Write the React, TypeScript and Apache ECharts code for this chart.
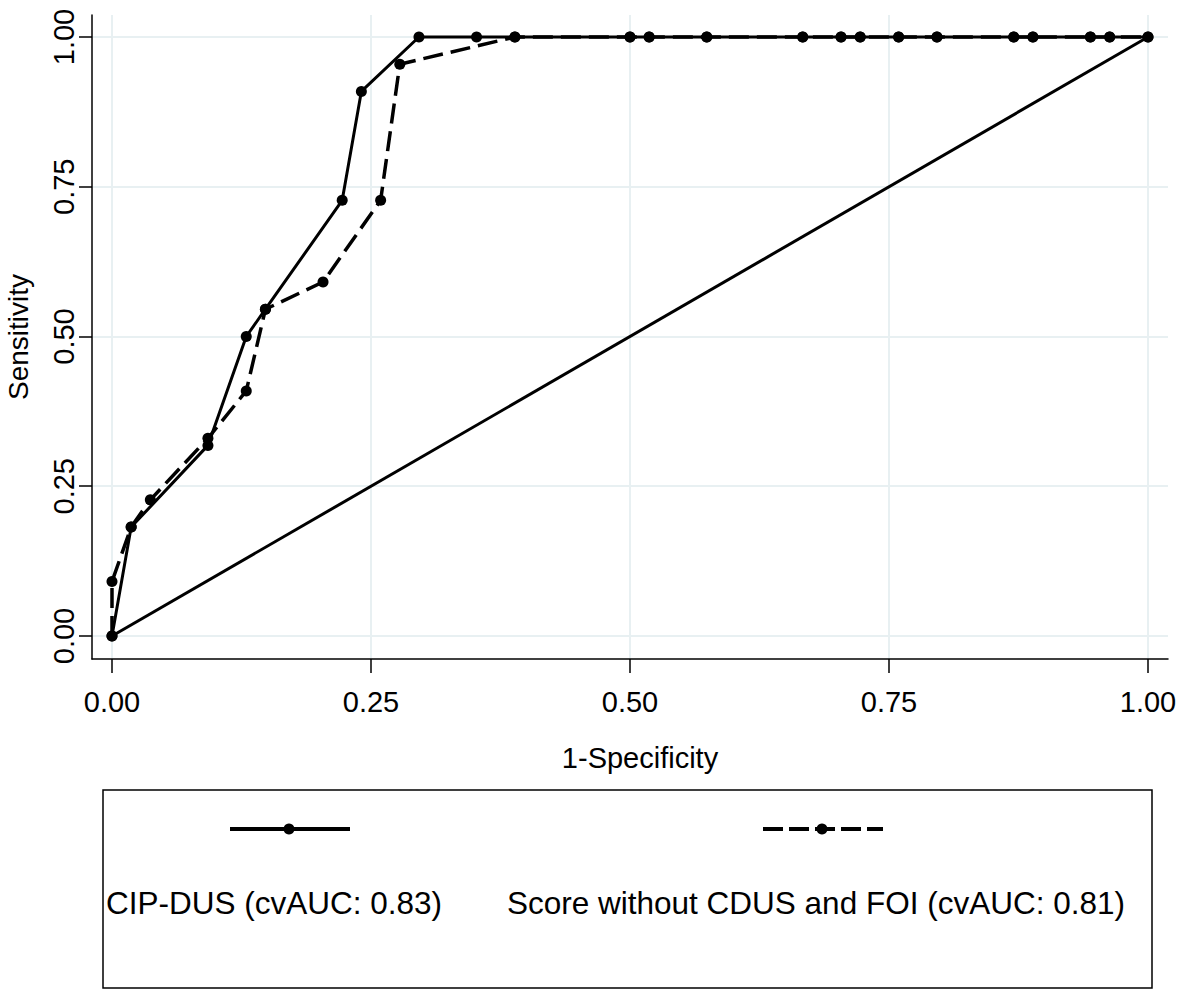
import React, { useEffect, useRef } from "react";
import * as echarts from "echarts";

const tickValues = [0, 0.25, 0.5, 0.75, 1];

const cipX = [0, 0.0185, 0.0926, 0.1296, 0.1481, 0.2222, 0.2407, 0.2963, 0.3519, 0.3889, 0.5, 0.5185, 0.5741, 0.6667, 0.7037, 0.7222, 0.7593, 0.7963, 0.8704, 0.8889, 0.9444, 0.963, 1];
const cipY = [0, 0.1818, 0.3182, 0.5, 0.5455, 0.7273, 0.9091, 1, 1, 1, 1, 1, 1, 1, 1, 1, 1, 1, 1, 1, 1, 1, 1];

const scoreX = [0, 0, 0.0185, 0.037, 0.0926, 0.1296, 0.1481, 0.2037, 0.2593, 0.2778, 0.3889, 0.5, 0.5185, 0.5741, 0.6667, 0.7037, 0.7222, 0.7593, 0.7963, 0.8704, 0.8889, 0.9444, 0.963, 1];
const scoreY = [0, 0.0909, 0.1818, 0.2273, 0.33, 0.4091, 0.5455, 0.5909, 0.7273, 0.9545, 1, 1, 1, 1, 1, 1, 1, 1, 1, 1, 1, 1, 1, 1];

const refX = [0, 1];
const refY = [0, 1];

const legendNames = ["CIP-DUS (cvAUC: 0.83)", "Score without CDUS and FOI (cvAUC: 0.81)"];
const xTitle = "1-Specificity";
const yTitle = "Sensitivity";

const FONT = "'Liberation Sans', Arial, Helvetica, sans-serif";

export default function App() {
  const ref = useRef<HTMLDivElement>(null);
  useEffect(() => {
    if (!ref.current) return;
    const chart = echarts.init(ref.current, undefined, { renderer: "svg" });
    const zip = (xs: number[], ys: number[]) => xs.map((x, i) => [x, ys[i]]);
    const gridColor = "#e8f0f2";
    chart.setOption({
      animation: false,
      backgroundColor: "#fff",
      grid: { left: 92, right: 13, top: 15, bottom: 333, containLabel: false, outerBoundsMode: "none" },
      xAxis: {
        type: "value",
        min: -0.0193,
        max: 1.0193,
        name: xTitle,
        nameLocation: "middle",
        nameGap: 84,
        nameTextStyle: { fontSize: 29, color: "#000", fontFamily: FONT, padding: [0, 0, 0, 20] },
        axisLine: { show: true, onZero: false, lineStyle: { color: "#000", width: 1.5 } },
        axisTick: { show: true, customValues: tickValues, length: 14, lineStyle: { color: "#000", width: 1.5 } },
        axisLabel: {
          customValues: tickValues,
          formatter: (v: number) => v.toFixed(2),
          fontSize: 29,
          color: "#000",
          fontFamily: FONT,
          margin: 28,
        },
        splitLine: { show: true, lineStyle: { color: gridColor, width: 2 } },
      },
      yAxis: {
        type: "value",
        min: -0.0384,
        max: 1.0367,
        name: yTitle,
        nameLocation: "middle",
        nameGap: 60,
        nameTextStyle: { fontSize: 28, color: "#000", fontFamily: FONT },
        axisLine: { show: true, onZero: false, lineStyle: { color: "#000", width: 1.5 } },
        axisTick: { show: true, customValues: tickValues, length: 13, lineStyle: { color: "#000", width: 1.5 } },
        axisLabel: {
          customValues: tickValues,
          formatter: (v: number) => v.toFixed(2),
          fontSize: 29,
          color: "#000",
          fontFamily: FONT,
          rotate: 90,
          margin: 14,
        },
        splitLine: { show: true, lineStyle: { color: gridColor, width: 2 } },
      },
      series: [
        {
          type: "line",
          data: zip(refX, refY),
          showSymbol: false,
          lineStyle: { color: "#000", width: 3 },
          z: 2,
        },
        {
          name: legendNames[0],
          type: "line",
          data: zip(cipX, cipY),
          symbol: "circle",
          symbolSize: 11,
          itemStyle: { color: "#000" },
          lineStyle: { color: "#000", width: 3 },
          z: 3,
        },
        {
          name: legendNames[1],
          type: "line",
          data: zip(scoreX, scoreY),
          symbol: "circle",
          symbolSize: 11,
          itemStyle: { color: "#000" },
          lineStyle: { color: "#000", width: 3.5, type: [20, 8] },
          z: 4,
        },
      ],
      graphic: [
        {
          type: "rect",
          shape: { x: 103, y: 790, width: 1049, height: 198 },
          style: { fill: "none", stroke: "#000", lineWidth: 1.5 },
        },
        {
          type: "line",
          shape: { x1: 230, y1: 829, x2: 350, y2: 829 },
          style: { stroke: "#000", lineWidth: 4 },
        },
        { type: "circle", shape: { cx: 289, cy: 829, r: 5.5 }, style: { fill: "#000" } },
        {
          type: "line",
          shape: { x1: 763, y1: 829, x2: 883, y2: 829 },
          style: { stroke: "#000", lineWidth: 4, lineDash: [20, 6] },
        },
        { type: "circle", shape: { cx: 822, cy: 829, r: 5.5 }, style: { fill: "#000" } },
        {
          type: "text",
          x: 106,
          y: 903,
          style: { text: legendNames[0], fontSize: 31.5, fill: "#000", fontFamily: FONT, verticalAlign: "middle" },
        },
        {
          type: "text",
          x: 507,
          y: 903,
          style: { text: legendNames[1], fontSize: 31.5, fill: "#000", fontFamily: FONT, verticalAlign: "middle" },
        },
      ],
    });
    return () => chart.dispose();
  }, []);
  return <div ref={ref} style={{ width: 1181, height: 992, position: "absolute", left: 0, top: 0 }} />;
}
